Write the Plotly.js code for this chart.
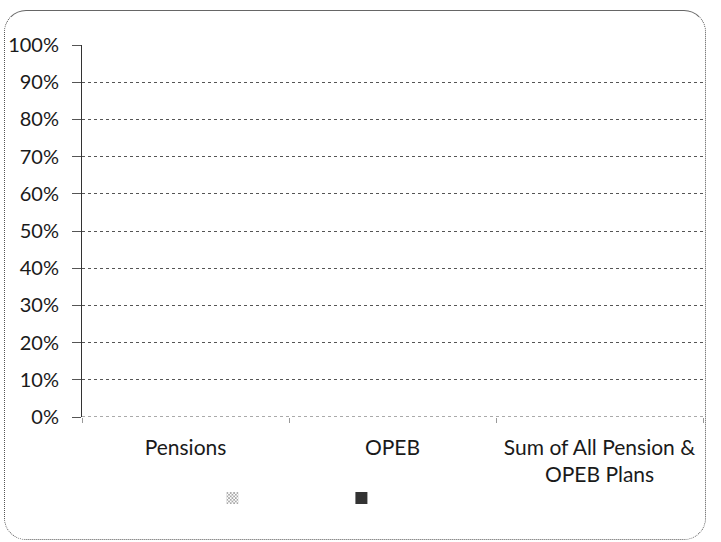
<!DOCTYPE html>
<html>
<head>
<meta charset="utf-8">
<script src="https://cdn.plot.ly/plotly-3.0.1.min.js"></script>
<style>
  html, body { margin: 0; padding: 0; background: #fff; }
  #wrap { position: relative; width: 721px; height: 542px; }
  #chart { position: absolute; left: 0; top: 0; width: 721px; height: 542px; }
  #frame { position: absolute; left: 4px; top: 10px; width: 700px; height: 528px;
           border: 1px dotted #555; border-top: 1px solid #666; border-radius: 22px; pointer-events: none; }
</style>
</head>
<body>
<div id="wrap">
  <div id="chart"></div>
  <div id="frame"></div>
</div>
<script>
// Categories (x-axis tick labels)
const categories = ["Pensions", "OPEB", "Sum of All Pension &<br>OPEB Plans"];
// Two series; no bars are visible in the reference, so values are absent
const seriesA = [null, null, null];
const seriesB = [null, null, null];
// Y tick values / labels
const yTickVals = [0, 0.1, 0.2, 0.3, 0.4, 0.5, 0.6, 0.7, 0.8, 0.9, 1.0];
const yTickText = ["0%", "10%", "20%", "30%", "40%", "50%", "60%", "70%", "80%", "90%", "100%"];

const fontFam = "Lato, 'Open Sans', sans-serif";

const traces = [
  {
    type: "bar", x: categories, y: seriesA, name: " ",
    marker: { color: "#bdbdbd", pattern: { shape: "x", fgcolor: "#777", size: 3, solidity: 0.4 }, line: { width: 0 } }
  },
  {
    type: "bar", x: categories, y: seriesB, name: " ",
    marker: { color: "#333333", line: { width: 0 } }
  }
];

const layout = {
  width: 721, height: 542,
  margin: { l: 82, r: 18, t: 45, b: 125 },
  paper_bgcolor: "rgba(0,0,0,0)", plot_bgcolor: "rgba(0,0,0,0)",
  font: { family: fontFam, color: "#1a1a1a", size: 20 },
  showlegend: true,
  legend: {
    orientation: "h", x: 0.21, y: -0.218, xanchor: "left", yanchor: "middle",
    entrywidth: 84, entrywidthmode: "pixels", itemwidth: 30,
    font: { size: 12 }, bgcolor: "rgba(0,0,0,0)"
  },
  xaxis: {
    type: "category", range: [-0.5, 2.5],
    showline: false, showgrid: false, zeroline: false,
    ticks: "outside", tickson: "boundaries", ticklen: 5, tickcolor: "#999",
    ticklabelstandoff: 16,
    tickfont: { size: 21, family: fontFam, color: "#1a1a1a" }
  },
  yaxis: {
    range: [0, 1], tickmode: "array", tickvals: yTickVals, ticktext: yTickText,
    showline: true, linecolor: "#333", linewidth: 1,
    showgrid: true, gridcolor: "#555", gridwidth: 1, griddash: "dot",
    zeroline: false,
    ticks: "outside", ticklen: 9, tickcolor: "#555",
    ticklabelstandoff: 9,
    tickfont: { size: 20, family: fontFam, color: "#1a1a1a" }
  },
  shapes: [
    { type: "line", xref: "paper", yref: "y", x0: 0, x1: 1, y0: 0, y1: 0,
      line: { color: "#555", width: 1, dash: "dot" } }
  ]
};

Plotly.newPlot("chart", traces, layout, { displayModeBar: false, staticPlot: true });
</script>
</body>
</html>
